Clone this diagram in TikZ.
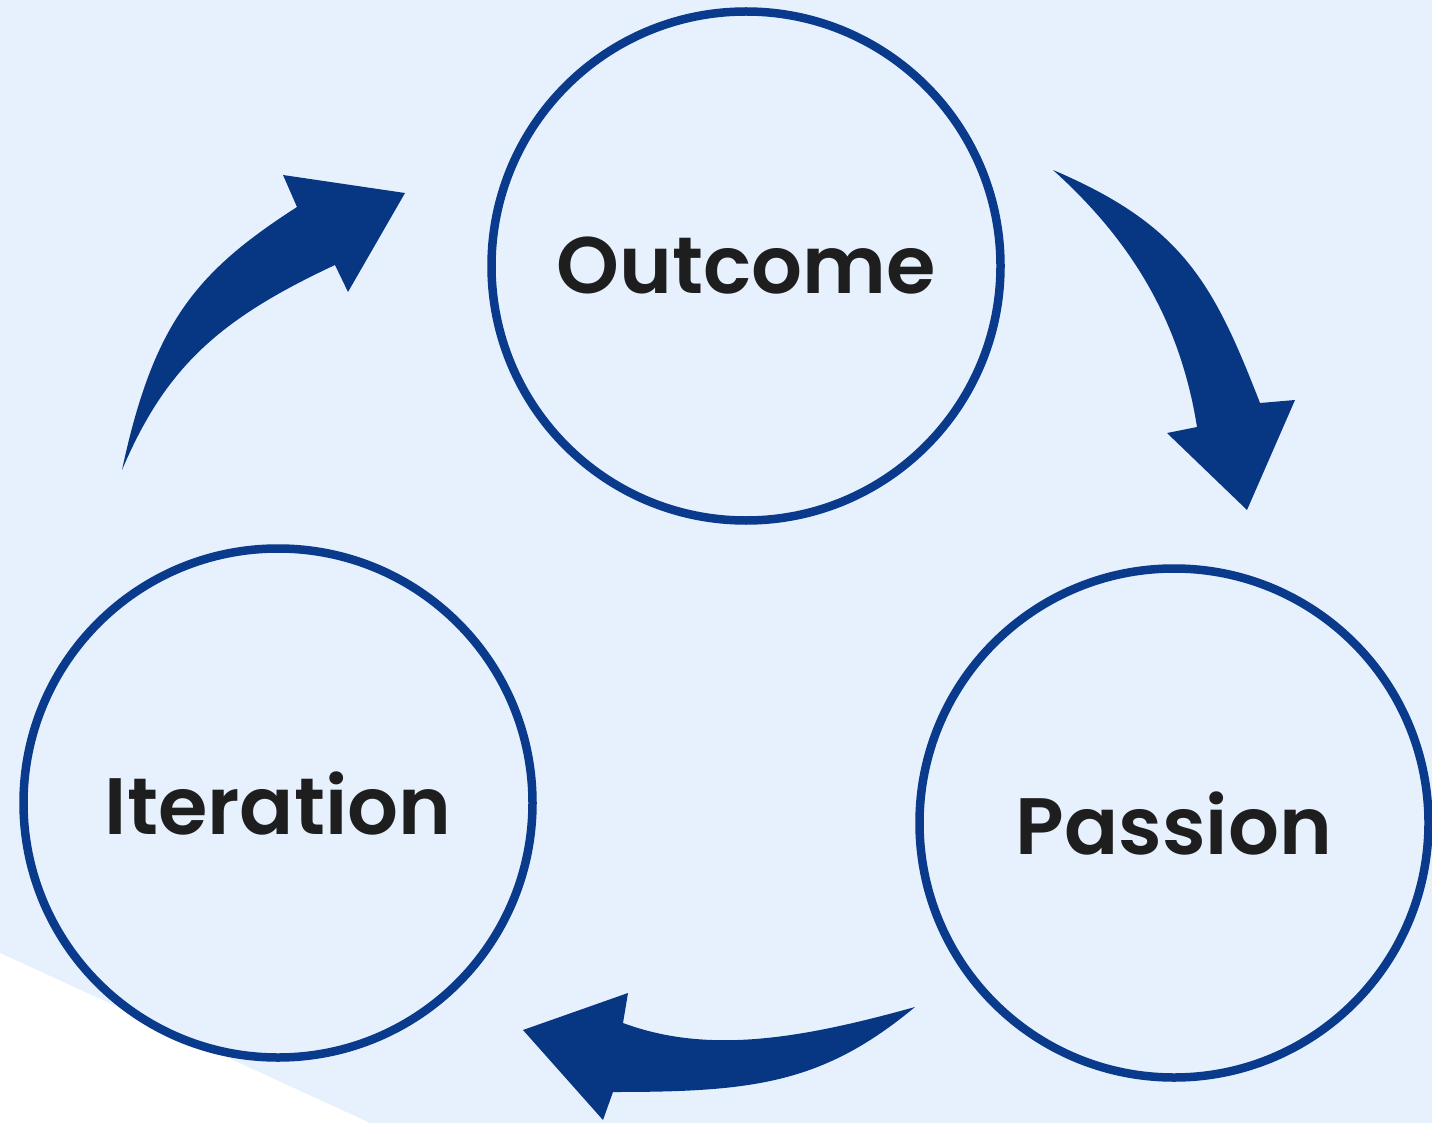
\documentclass[tikz,border=0pt]{standalone}
\usepackage{fontspec}
\newfontfamily\labelfont{Poppins SemiBold}
\definecolor{bgblue}{HTML}{E6F1FD}
\definecolor{ringblue}{HTML}{0A3A8C}
\definecolor{arrowblue}{HTML}{073683}
\definecolor{inkgray}{HTML}{1E1E1E}
\begin{document}
\begin{tikzpicture}[x=1pt,y=-1pt,
  stage/.style={circle, draw=ringblue, line width=8.5pt, minimum size=509pt,
    inner sep=0pt, text=inkgray, font=\labelfont\fontsize{80}{96}\selectfont},
  flow/.style={fill=arrowblue}]
% background with a white corner wedge
\fill[bgblue] (0,0) rectangle (1432,1123);
\fill[white] (0,953) -- (370,1123) -- (0,1123) -- cycle;
\useasboundingbox (0,0) rectangle (1432,1123);

% the three stages
\node[stage] (outcome) at (746,266) {Outcome};
\node[stage] (iteration) at (278,803) {Iteration};
\node[stage] (passion) at (1174,823) {Passion};

% Iteration -> Outcome
\fill[flow] (122,470)
  .. controls (153.5,323) and (196,272) .. (297,207)
  -- (283,175) -- (405,193) -- (348,292) -- (335,265)
  .. controls (217,320) and (165,369) .. (122,470)
  -- cycle;

% Outcome -> Passion
\fill[flow] (1053,170)
  .. controls (1182,225) and (1213,282) .. (1260,403)
  -- (1295,400) -- (1247,510) -- (1167,433) -- (1197,427)
  .. controls (1179,313) and (1124,234) .. (1053,170)
  -- cycle;

% Passion -> Iteration
\fill[flow] (915,1007)
  .. controls (800,1039) and (708,1054.5) .. (623,1023)
  -- (628,993) -- (523,1030) -- (603,1120) -- (613,1092)
  .. controls (753,1092) and (822.6,1083.8) .. (915,1007)
  -- cycle;
\end{tikzpicture}
\end{document}
